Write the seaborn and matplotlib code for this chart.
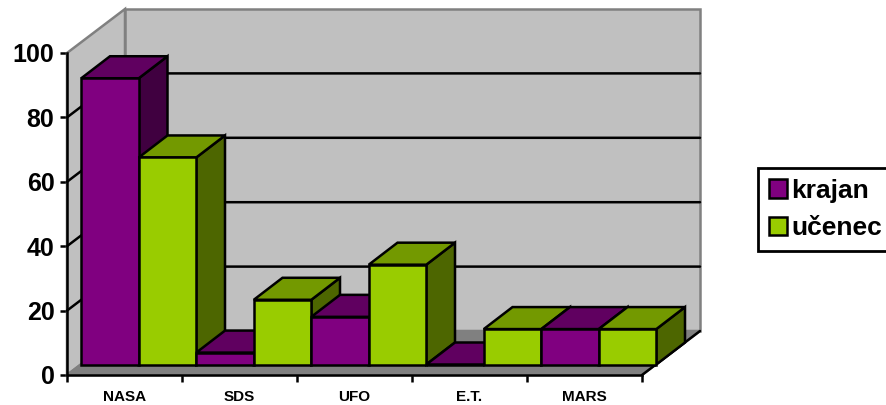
import matplotlib
matplotlib.use("Agg")
import matplotlib.pyplot as plt
import pandas as pd
import seaborn as sns
from matplotlib.colors import to_hex
from matplotlib.patches import Polygon, Rectangle

categories = ["NASA", "SDS", "UFO", "E.T.", "MARS"]
krajan = [88.9, 3.7, 14.8, 0, 11]
ucenec = [64.3, 20.1, 31, 11, 11]
y_ticks = [0, 20, 40, 60, 80, 100]

W, H = 887, 405
# front plane of the box, in pixels
LEFT, RIGHT, TOP, BOTTOM = 67, 642, 53, 375
LW = 1.8

sns.set_style("white")
plt.rcParams["font.family"] = ["Liberation Sans", "DejaVu Sans"]
plt.rcParams["font.weight"] = "bold"
plt.rcParams["text.color"] = "black"
plt.rcParams["xtick.labelcolor"] = "black"
plt.rcParams["ytick.labelcolor"] = "black"

df = pd.DataFrame({
    "cat": categories * 2,
    "series": ["krajan"] * 5 + ["učenec"] * 5,
    "value": krajan + ucenec,
})
palette = {"krajan": "#800080", "učenec": "#99CC00"}
shades = {"#800080": ("#600060", "#400040"), "#99CC00": ("#739900", "#4D6600")}

fig = plt.figure(figsize=(W / 100, H / 100), dpi=100, facecolor="white")
ax = fig.add_axes([LEFT / W, 1 - BOTTOM / H, (RIGHT - LEFT) / W, (BOTTOM - TOP) / H])
ax.patch.set_visible(False)

sns.barplot(data=df, x="cat", y="value", hue="series", palette=palette, width=1.0,
            gap=0, saturation=1, edgecolor="black", linewidth=LW, ax=ax)
ax.set_xlim(-0.5, 4.5)
ax.set_ylim(0, 100)

# pixels to data units
px_x = 5 / (RIGHT - LEFT)
px_y = 100 / (BOTTOM - TOP)
wall_dx, wall_dy = 58 * px_x, 44 * px_y
gap_dx, gap_dy = 14.3 * px_x, 10.5 * px_y
bar_dx, bar_dy = 28.7 * px_x, 22 * px_y


def add_poly(points, face, edge, z, lw=LW):
    ax.add_patch(Polygon(points, closed=True, facecolor=face, edgecolor=edge, linewidth=lw,
                         zorder=z, clip_on=False, joinstyle="miter"))


x0, x1 = -0.5, 4.5
# walls and floor
add_poly([(x0, 0), (x0 + wall_dx, wall_dy), (x0 + wall_dx, 100 + wall_dy), (x0, 100)], "#C0C0C0", "#808080", 1)
add_poly([(x0 + wall_dx, wall_dy), (x1 + wall_dx, wall_dy), (x1 + wall_dx, 100 + wall_dy), (x0 + wall_dx, 100 + wall_dy)],
         "#C0C0C0", "#808080", 1)
add_poly([(x0, 0), (x1, 0), (x1 + wall_dx, wall_dy), (x0 + wall_dx, wall_dy)], "#808080", "#808080", 1)
ax.plot([x1, x1 + wall_dx], [0, wall_dy], color="black", lw=LW, zorder=1.5, clip_on=False)

# gridlines run along the left wall and across the back wall
for v in y_ticks[1:-1]:
    ax.plot([x0, x0 + wall_dx, x1 + wall_dx], [v, v + wall_dy, v + wall_dy],
            color="black", lw=LW, zorder=1.5, clip_on=False)

# shift the seaborn bars back into the box and give them side and top faces
# (seaborn also leaves empty legend rectangles in ax.patches, skip those)
bars = [p for p in ax.patches if isinstance(p, Rectangle) and p.get_width() > 0]
bars = sorted(bars, key=lambda p: p.get_x())
for i, bar in enumerate(bars):
    bar.set_x(bar.get_x() + gap_dx)
    bar.set_y(gap_dy)
    bar.set_clip_on(False)
    left, right = bar.get_x(), bar.get_x() + bar.get_width()
    low, high = gap_dy, gap_dy + bar.get_height()
    top_c, side_c = shades[to_hex(bar.get_facecolor()).upper()]
    z = 3 + i
    add_poly([(right, low), (right + bar_dx, low + bar_dy), (right + bar_dx, high + bar_dy), (right, high)],
             side_c, "black", z)
    add_poly([(left, high), (right, high), (right + bar_dx, high + bar_dy), (left + bar_dx, high + bar_dy)],
             top_c, "black", z + 0.1)
    bar.set_zorder(z + 0.2)

ax.set_xlabel("")
ax.set_ylabel("")
ax.set_yticks(y_ticks)
ax.tick_params(axis="y", length=5, width=LW, color="black", labelsize=18, pad=4, left=True)
ax.set_xticks(range(5))
ax.set_xticklabels(categories, fontsize=11, fontweight="bold")
ax.tick_params(axis="x", which="major", length=0, pad=10.5, bottom=False)
ax.set_xticks([x0 + i for i in range(6)], minor=True)
ax.tick_params(axis="x", which="minor", length=5, width=LW, color="black", bottom=True)

sns.despine(ax=ax)
for side in ("left", "bottom"):
    ax.spines[side].set_linewidth(LW)
    ax.spines[side].set_color("black")
    ax.spines[side].set_zorder(20)

handles, labels = ax.get_legend_handles_labels()
leg = ax.legend(handles, labels, loc="upper left", bbox_to_anchor=(758 / W, 1 - 168 / H),
                bbox_transform=fig.transFigure, fontsize=19, frameon=True, fancybox=False,
                framealpha=1, edgecolor="black", borderpad=0.4, labelspacing=0.52,
                handlelength=0.7, handleheight=0.7, handletextpad=0.15, borderaxespad=0)
leg.get_frame().set_linewidth(2)
leg.set_zorder(30)

fig.savefig("out.png", dpi=100)
